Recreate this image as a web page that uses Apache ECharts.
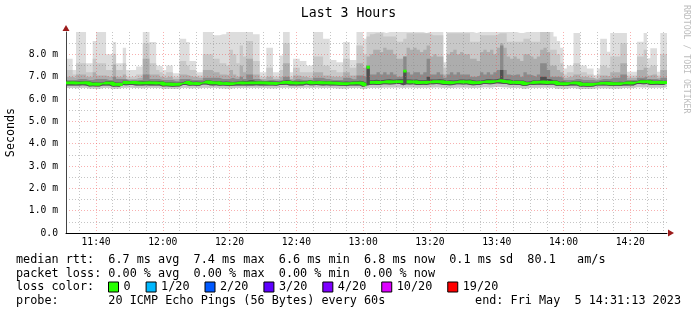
<!DOCTYPE html>
<html><head><meta charset="utf-8">
<script src="https://cdn.jsdelivr.net/npm/echarts@6/dist/echarts.min.js"></script>
<style>html,body{margin:0;padding:0;background:#fff}#c{width:697px;height:315px}</style>
</head><body><div id="c"></div>
<script>
// ---- data (milliseconds), one value per minute starting 11:31 ----
const startTime = '11:31';
const tickLabels = ['11:40','12:00','12:20','12:40','13:00','13:20','13:40','14:00','14:20'];
const yTicks = ['0.0','1.0 m','2.0 m','3.0 m','4.0 m','5.0 m','6.0 m','7.0 m','8.0 m'];

const pingMax = [
7.8,7.8,7.3,9.0,9.0,9.0,7.6,7.6,8.6,9.0,
9.0,9.0,8.0,8.0,8.55,7.6,7.6,8.3,7.3,7.3,
7.3,7.45,7.45,9.0,9.0,8.55,8.55,7.5,7.45,7.3,
7.5,7.5,7.15,7.15,8.7,8.7,8.55,7.7,7.7,7.2,
7.2,9.0,9.0,9.0,8.85,8.85,8.9,8.9,9.0,9.0,
9.0,9.0,9.0,9.0,9.0,9.0,8.9,8.9,7.2,7.2,
8.3,8.3,7.2,7.2,7.95,9.0,9.0,7.2,7.8,7.8,
7.7,7.7,7.5,7.5,9.0,9.0,9.0,8.7,8.7,7.75,
7.75,7.65,7.65,8.55,8.55,7.75,7.75,9.0,9.0,8.7,
9.0,9.0,9.0,9.0,9.0,8.95,9.0,9.0,9.0,9.0,
9.0,9.0,9.0,9.0,9.0,9.0,9.0,8.95,9.0,9.0,
9.0,9.0,9.0,7.65,9.0,9.0,9.0,9.0,9.0,9.0,
9.0,9.0,8.95,9.0,9.0,9.0,9.0,9.0,9.0,9.0,
9.0,9.0,9.0,9.0,9.0,8.95,8.95,9.0,9.0,9.0,
9.0,9.0,9.0,9.0,9.0,9.0,8.8,8.6,8.3,7.37,
7.5,7.5,8.95,8.95,7.5,7.5,7.37,7.37,7.08,7.37,
8.7,8.7,8.12,8.95,8.95,8.95,8.95,8.95,7.22,7.22,
7.22,8.56,8.56,8.95,7.82,8.27,8.27,7.22,8.95,8.95,
8.95];

const pingQ2 = [
7.3,7.3,7.1,7.6,7.6,7.6,7.2,7.2,7.8,7.6,
7.6,7.6,7.3,7.3,8.0,7.3,7.3,7.6,7.0,7.0,
7.0,7.1,7.1,8.5,8.5,7.6,7.6,7.3,7.2,7.1,
7.2,7.2,7.0,7.0,7.7,7.7,7.5,7.3,7.3,7.05,
7.05,8.0,8.0,8.0,7.8,7.8,7.6,7.6,7.5,8.2,
8.0,7.6,8.4,7.9,8.6,8.6,7.7,7.7,7.0,7.0,
7.4,7.4,7.0,7.0,7.3,8.5,8.5,7.0,7.4,7.4,
7.2,7.2,7.2,7.2,7.9,7.9,7.9,7.5,7.5,7.3,
7.3,7.2,7.2,7.8,7.8,7.4,7.4,8.4,8.4,8.0,
8.8,8.9,8.94,8.94,8.94,8.8,8.8,8.8,8.8,8.56,
8.56,8.7,8.94,8.94,8.94,8.94,8.94,8.94,8.94,8.86,
8.86,8.86,8.86,7.4,8.94,8.94,8.94,8.94,8.94,8.94,
8.94,8.56,8.56,8.56,8.86,8.86,8.86,8.86,8.86,8.94,
8.94,8.94,8.56,8.56,8.56,8.56,8.56,8.7,8.7,8.56,
8.56,8.56,9.0,9.0,9.0,8.2,8.2,8.0,7.6,7.1,
7.2,7.2,7.6,7.6,7.2,7.2,7.1,7.1,6.95,7.1,
7.5,7.5,7.4,7.9,7.9,7.9,8.5,8.5,7.05,7.05,
7.05,7.9,7.9,8.2,7.4,7.5,7.5,7.05,8.0,8.0,
8.0];

const pingQ3 = [
7.0,7.0,6.95,7.1,7.1,7.1,7.0,7.0,7.2,7.05,
7.05,7.05,7.0,7.0,7.55,7.0,7.0,7.1,6.9,6.9,
6.9,6.95,6.95,7.8,7.8,7.1,7.1,7.1,7.0,6.95,
7.0,7.0,6.9,6.9,7.1,7.1,7.05,7.0,7.0,6.95,
6.95,7.3,7.3,7.3,7.2,7.2,7.1,7.1,7.05,7.3,
7.1,7.0,7.5,7.2,7.8,7.8,7.1,7.1,6.9,6.9,
7.0,7.0,6.9,6.9,7.0,7.6,7.6,6.9,7.05,7.05,
7.0,7.0,6.95,6.95,7.2,7.2,7.2,7.05,7.05,7.0,
7.0,7.0,7.0,7.2,7.2,7.05,7.05,7.6,7.6,7.4,
7.9,8.0,8.2,8.2,8.1,8.3,8.2,8.2,8.0,7.8,
7.8,7.9,8.3,8.2,8.3,8.2,8.1,8.2,8.4,7.9,
8.0,7.9,7.9,7.1,8.0,8.1,8.2,8.0,8.1,8.0,
8.0,7.8,7.8,7.7,8.1,8.2,8.1,8.2,8.0,8.3,
8.5,8.3,7.9,7.8,7.9,7.8,7.7,8.0,8.0,7.9,
7.8,7.9,8.2,8.3,8.1,7.5,7.5,7.3,7.2,6.95,
7.0,7.0,7.1,7.1,7.0,7.0,6.95,6.95,6.88,6.95,
7.05,7.05,7.0,7.2,7.2,7.2,7.6,7.6,6.95,6.95,
6.95,7.3,7.3,7.4,7.05,7.1,7.1,6.95,7.3,7.3,
7.3];

const pingQ4 = [
6.85,6.85,6.85,6.9,6.9,6.9,6.85,6.85,6.9,6.9,
6.9,6.9,6.85,6.85,7.0,6.9,6.9,6.9,6.82,6.82,
6.82,6.85,6.85,7.1,7.1,6.9,6.9,6.9,6.85,6.85,
6.85,6.85,6.8,6.8,6.9,6.9,6.9,6.85,6.85,6.85,
6.85,6.95,6.95,6.95,6.95,6.95,6.9,6.9,6.9,6.95,
6.9,6.9,7.0,6.9,7.1,7.1,6.9,6.9,6.82,6.82,
6.85,6.85,6.82,6.82,6.85,7.0,7.0,6.82,6.88,6.88,
6.85,6.85,6.85,6.85,6.95,6.95,6.95,6.9,6.9,6.85,
6.85,6.85,6.85,6.95,6.95,6.88,6.88,7.05,7.05,7.0,
7.5,7.1,7.1,7.2,7.1,7.2,7.1,7.2,7.1,7.0,
7.0,7.9,7.2,7.1,7.2,7.2,7.1,7.2,7.8,7.1,
7.1,7.2,7.1,6.95,7.1,7.2,7.1,7.2,7.1,7.1,
7.1,7.0,7.0,7.05,7.2,7.1,7.2,7.1,7.2,7.3,
8.4,7.3,7.1,7.05,7.1,7.1,7.0,7.2,7.1,7.05,
7.0,7.1,7.6,7.6,7.3,7.0,7.0,7.0,6.95,6.85,
6.85,6.85,6.9,6.9,6.85,6.85,6.85,6.85,6.82,6.85,
6.9,6.9,6.88,6.95,6.95,6.95,7.1,7.1,6.85,6.85,
6.85,6.95,6.95,7.0,6.9,6.9,6.9,6.85,6.95,6.95,
6.95];

const pingQ5 = [
6.8,6.81,6.8,6.79,6.8,6.81,6.8,6.75,6.75,6.74,
6.74,6.8,6.79,6.8,6.74,6.74,6.73,6.82,6.81,6.82,
6.82,6.8,6.79,6.8,6.82,6.8,6.8,6.79,6.8,6.74,
6.75,6.74,6.73,6.74,6.75,6.82,6.82,6.77,6.78,6.77,
6.77,6.84,6.84,6.81,6.8,6.81,6.77,6.78,6.77,6.76,
6.77,6.8,6.82,6.79,6.84,6.84,6.8,6.81,6.8,6.8,
6.79,6.78,6.78,6.77,6.82,6.84,6.84,6.8,6.8,6.79,
6.8,6.8,6.84,6.81,6.82,6.82,6.81,6.8,6.81,6.79,
6.79,6.78,6.77,6.78,6.77,6.79,6.79,6.82,6.8,6.72,
7.45,6.84,6.86,6.84,6.85,6.87,6.88,6.86,6.87,6.88,
6.88,7.25,6.87,6.86,6.87,6.84,6.84,6.85,7.0,6.87,
6.87,6.88,6.87,6.82,6.84,6.83,6.84,6.87,6.87,6.86,
6.87,6.84,6.82,6.83,6.84,6.88,6.88,6.87,6.88,6.92,
7.3,6.88,6.87,6.83,6.84,6.83,6.83,6.77,6.78,6.84,
6.83,6.84,7.0,7.0,6.9,6.84,6.84,6.77,6.78,6.76,
6.76,6.8,6.8,6.79,6.73,6.74,6.73,6.73,6.74,6.78,
6.78,6.79,6.78,6.76,6.76,6.77,6.76,6.8,6.8,6.79,
6.8,6.86,6.86,6.85,6.86,6.82,6.82,6.83,6.82,6.82,
6.88];

const medianRtt = [
6.72,6.73,6.72,6.71,6.72,6.73,6.72,6.66,6.67,6.66,
6.66,6.72,6.71,6.72,6.65,6.66,6.65,6.74,6.73,6.74,
6.74,6.72,6.71,6.72,6.73,6.72,6.72,6.71,6.72,6.66,
6.67,6.66,6.65,6.66,6.66,6.74,6.74,6.69,6.70,6.69,
6.69,6.76,6.76,6.73,6.72,6.73,6.69,6.70,6.69,6.68,
6.69,6.72,6.72,6.71,6.72,6.72,6.72,6.73,6.72,6.72,
6.71,6.70,6.70,6.69,6.74,6.74,6.75,6.72,6.72,6.71,
6.72,6.72,6.76,6.73,6.73,6.74,6.73,6.72,6.73,6.71,
6.71,6.70,6.69,6.69,6.68,6.71,6.71,6.72,6.71,6.64,
7.42,6.74,6.75,6.74,6.74,6.77,6.77,6.76,6.77,6.78,
6.78,7.25,6.77,6.76,6.77,6.74,6.74,6.75,6.74,6.77,
6.77,6.78,6.77,6.74,6.74,6.73,6.74,6.77,6.77,6.76,
6.77,6.74,6.73,6.74,6.74,6.78,6.78,6.77,6.78,6.82,
6.81,6.78,6.78,6.74,6.75,6.74,6.74,6.68,6.69,6.75,
6.74,6.75,6.76,6.75,6.74,6.75,6.75,6.68,6.69,6.68,
6.68,6.72,6.72,6.71,6.65,6.66,6.65,6.65,6.66,6.70,
6.70,6.71,6.70,6.68,6.68,6.69,6.68,6.72,6.72,6.71,
6.72,6.78,6.78,6.77,6.78,6.74,6.74,6.75,6.74,6.74,
6.80];

const pingMin = [
6.5,6.49,6.5,6.48,6.49,6.5,6.5,6.47,6.47,6.46,
6.46,6.49,6.5,6.49,6.46,6.46,6.47,6.5,6.5,6.51,
6.5,6.49,6.49,6.48,6.49,6.5,6.5,6.49,6.5,6.46,
6.46,6.47,6.46,6.46,6.47,6.5,6.5,6.48,6.48,6.49,
6.48,6.5,6.5,6.49,6.5,6.5,6.48,6.48,6.47,6.47,
6.48,6.5,6.49,6.5,6.49,6.5,6.5,6.5,6.49,6.5,
6.49,6.48,6.48,6.48,6.5,6.5,6.51,6.5,6.49,6.5,
6.5,6.5,6.51,6.5,6.5,6.51,6.5,6.49,6.5,6.49,
6.49,6.48,6.47,6.47,6.47,6.49,6.49,6.5,6.49,6.44,
6.47,6.5,6.5,6.5,6.49,6.52,6.52,6.51,6.52,6.52,
6.52,6.5,6.52,6.51,6.52,6.5,6.5,6.51,6.5,6.52,
6.52,6.53,6.52,6.5,6.5,6.49,6.5,6.52,6.52,6.51,
6.52,6.5,6.49,6.5,6.5,6.53,6.53,6.52,6.53,6.55,
6.54,6.53,6.53,6.5,6.5,6.5,6.5,6.46,6.47,6.5,
6.5,6.5,6.5,6.51,6.5,6.5,6.51,6.46,6.47,6.46,
6.46,6.49,6.49,6.48,6.45,6.45,6.45,6.45,6.46,6.48,
6.48,6.48,6.48,6.47,6.47,6.47,6.47,6.49,6.49,6.48,
6.49,6.53,6.53,6.52,6.53,6.5,6.5,6.51,6.5,6.5,
6.54];

const pingLow = [
6.61,6.61,6.61,6.6,6.61,6.62,6.61,6.56,6.57,6.56,
6.56,6.61,6.6,6.61,6.55,6.56,6.55,6.63,6.62,6.63,
6.63,6.61,6.6,6.61,6.62,6.61,6.61,6.6,6.61,6.56,
6.57,6.56,6.55,6.56,6.56,6.63,6.63,6.59,6.6,6.59,
6.59,6.65,6.65,6.62,6.61,6.62,6.59,6.6,6.59,6.58,
6.59,6.61,6.61,6.6,6.61,6.61,6.61,6.62,6.61,6.61,
6.6,6.6,6.6,6.59,6.63,6.63,6.64,6.61,6.61,6.6,
6.61,6.61,6.65,6.62,6.62,6.63,6.62,6.61,6.62,6.6,
6.6,6.6,6.59,6.59,6.58,6.6,6.6,6.61,6.6,6.54,
6.6,6.63,6.64,6.63,6.63,6.66,6.66,6.65,6.66,6.67,
6.67,6.62,6.66,6.65,6.66,6.63,6.63,6.64,6.63,6.66,
6.66,6.67,6.66,6.63,6.63,6.62,6.63,6.66,6.66,6.65,
6.66,6.63,6.62,6.63,6.63,6.67,6.67,6.66,6.67,6.7,
6.69,6.67,6.67,6.63,6.64,6.63,6.63,6.58,6.59,6.64,
6.63,6.64,6.64,6.64,6.63,6.64,6.64,6.58,6.59,6.58,
6.58,6.61,6.61,6.6,6.55,6.56,6.55,6.55,6.56,6.6,
6.6,6.6,6.6,6.58,6.58,6.59,6.58,6.61,6.61,6.6,
6.61,6.67,6.67,6.66,6.67,6.63,6.63,6.64,6.63,6.63,
6.69];

const lossNames = ['0','1/20','2/20','3/20','4/20','10/20','19/20'];
const lossColors = ['#26ff00','#00b8ff','#0059ff','#5e00ff','#7e00ff','#dd00ff','#ff0000'];

const statRows = [
  'median rtt:  6.7 ms avg  7.4 ms max  6.6 ms min  6.8 ms now  0.1 ms sd  80.1   am/s',
  'packet loss: 0.00 % avg  0.00 % max  0.00 % min  0.00 % now',
  'loss color:',
  'probe:       20 ICMP Echo Pings (56 Bytes) every 60s'
];
const endText = 'end: Fri May  5 14:31:13 2023';

// ---- build chart ----
[pingMax,pingQ2,pingQ3,pingQ4,pingQ5,medianRtt,pingMin,pingLow].forEach((a,i)=>{
  if (a.length !== 181) console.error('array '+i+' length '+a.length);
});
const mono = 'DejaVu Sans Mono';
const [sh, sm] = startTime.split(':').map(Number);
const cats = medianRtt.map((_, i) => {
  const t = sh * 60 + sm + i;
  return String(Math.floor(t / 60)).padStart(2, '0') + ':' + String(t % 60).padStart(2, '0');
});
const minuteOf = v => parseInt(v.slice(3), 10);
const medianBand = 0.13; // thickness of the median marker (in ms units)

const bands = [
  {top: pingMax, base: pingMin, color: '#dddddd'},
  {top: pingQ2, base: pingMin, color: '#c8c8c8'},
  {top: pingQ3, base: pingLow, color: '#adadad'},
  {top: pingQ4, base: pingLow, color: '#8a8a8a'},
  {top: pingQ5, base: pingLow, color: '#505050'}
];
const series = [];
const base = (data, stack) => ({type:'line', stack, data, step:'end', symbol:'none',
  lineStyle:{width:0}, silent:true, z:1, animation:false});
bands.forEach((b, i) => {
  series.push(base(b.base, 's'+i));
  series.push({type:'line', stack:'s'+i, data:b.top.map((v,k)=>+(v-b.base[k]).toFixed(3)), step:'end', symbol:'none',
    lineStyle:{width:0}, areaStyle:{color:b.color, opacity:1}, silent:true, z:1, animation:false});
});
// median drawn as a thin band around each median value (no vertical connectors)
const medLow = medianRtt.map(v => +(v - medianBand/2).toFixed(3));
const mb = base(medLow, 'med'); mb.z = 6; series.push(mb);
series.push({name:lossNames[0], type:'line', stack:'med', data:medianRtt.map(()=>medianBand), step:'end', symbol:'none',
  color:lossColors[0], lineStyle:{width:0}, areaStyle:{color:lossColors[0], opacity:1}, z:6, silent:true, animation:false});
for (let i = 1; i < lossNames.length; i++) {
  series.push({name:lossNames[i], type:'line', data:[], color:lossColors[i], symbol:'none'});
}

const chart = echarts.init(document.getElementById('c'), null, {renderer:'canvas'});
chart.setOption({
  animation: false,
  backgroundColor: '#ffffff',
  title: {text:'Last 3 Hours', left:'center', top:7, padding:0,
    textStyle:{fontFamily:mono, fontSize:13.2, fontWeight:'normal', color:'#000'}},
  grid: {left:66, right:30, top:32, bottom:82, containLabel:false, outerBoundsMode:'none'},
  legend: {
    data: lossNames.map(n => ({name:n, icon:'rect'})),
    left:108, top:281, padding:0, itemWidth:10, itemHeight:10, itemGap:15,
    selectedMode:false,
    itemStyle:{borderColor:'#000', borderWidth:1},
    textStyle:{fontFamily:mono, fontSize:11.8, color:'#000', padding:0}
  },
  xAxis: [
    {type:'category', data:cats, boundaryGap:false, position:'bottom', z:3,
     axisLine:{lineStyle:{color:'#000', width:1}},
     axisTick:{show:false},
     axisLabel:{interval:(i,v)=>tickLabels.includes(v), margin:4, fontFamily:mono, fontSize:9.7, color:'#000'},
     splitLine:{show:true, interval:(i,v)=>tickLabels.includes(v),
       lineStyle:{color:'rgba(240,80,80,0.45)', type:[1,2], width:1}}},
    {type:'category', data:cats, boundaryGap:false, position:'bottom', z:3,
     axisLine:{show:true, symbol:['none','triangle'], symbolSize:[7,6], symbolOffset:[0,4],
       lineStyle:{color:'#9b1b1b', width:0}},
     axisTick:{show:false}, axisLabel:{show:false},
     splitLine:{show:true, interval:(i,v)=>minuteOf(v)%5===0 && !tickLabels.includes(v),
       lineStyle:{color:'rgba(140,140,140,0.5)', type:[1,2], width:1}}}
  ],
  yAxis: [
    {type:'value', min:0, max:9, interval:1, position:'left', z:3,
     name:'Seconds', nameLocation:'middle', nameGap:49, nameRotate:90,
     nameTextStyle:{fontFamily:mono, fontSize:11.7, color:'#000'},
     axisLine:{show:true, onZero:false, lineStyle:{color:'#444', width:1}},
     axisTick:{show:false},
     axisLabel:{margin:8, fontFamily:mono, fontSize:9.7, color:'#000',
       formatter:v => (v >= 0 && v < yTicks.length) ? yTicks[v] : ''},
     splitLine:{show:true, showMaxLine:false, lineStyle:{color:'rgba(240,80,80,0.45)', type:[1,2], width:1}},
     minorTick:{show:false, splitNumber:2},
     minorSplitLine:{show:true, lineStyle:{color:'rgba(140,140,140,0.5)', type:[1,2], width:1}}},
    {type:'value', min:0, max:9, position:'left', z:3,
     axisLine:{show:true, onZero:false, symbol:['none','triangle'], symbolSize:[7,6], symbolOffset:[0,4],
       lineStyle:{color:'#9b1b1b', width:0}},
     axisTick:{show:false}, axisLabel:{show:false}, splitLine:{show:false}}
  ],
  graphic: [
    {type:'text', x:16, y:259.5, silent:true, style:{text:statRows[0], font:'11.8px "DejaVu Sans Mono"', fill:'#000', verticalAlign:'middle'}},
    {type:'text', x:16, y:273.5, silent:true, style:{text:statRows[1], font:'11.8px "DejaVu Sans Mono"', fill:'#000', verticalAlign:'middle'}},
    {type:'text', x:16, y:287, silent:true, style:{text:statRows[2], font:'11.8px "DejaVu Sans Mono"', fill:'#000', verticalAlign:'middle'}},
    {type:'text', x:16, y:301, silent:true, style:{text:statRows[3], font:'11.8px "DejaVu Sans Mono"', fill:'#000', verticalAlign:'middle'}},
    {type:'text', x:681, y:301, silent:true, style:{text:endText, font:'11.8px "DejaVu Sans Mono"', fill:'#000', align:'right', verticalAlign:'middle'}},
    {type:'text', x:686, y:5, rotation:-Math.PI/2, silent:true, style:{text:'RRDTOOL / TOBI OETIKER', font:'8.2px "DejaVu Sans Mono"', fill:'#bdbdbd', verticalAlign:'middle'}}
  ],
  series: series
});
</script>
</body></html>
